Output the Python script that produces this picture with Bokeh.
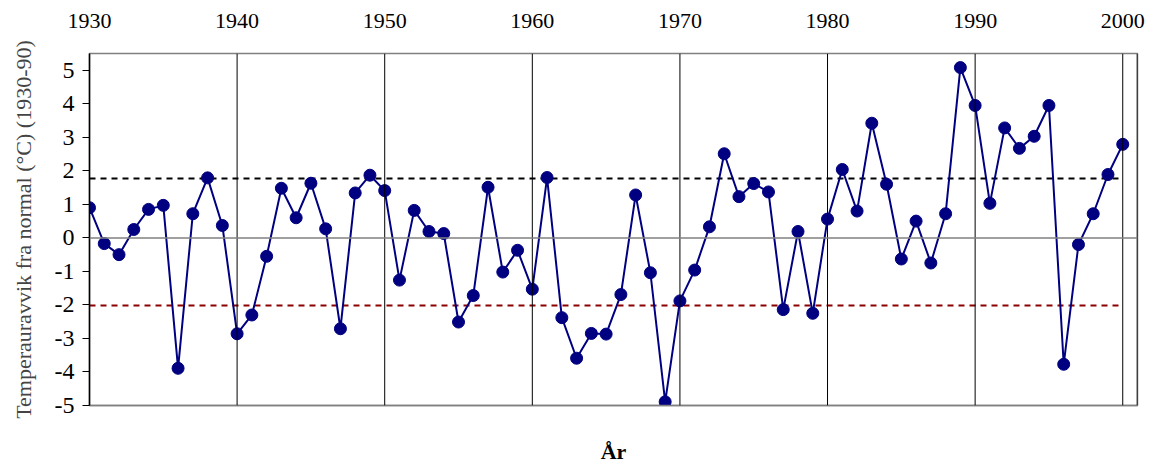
from bokeh.plotting import figure
from bokeh.models import LinearAxis, Span, FixedTicker, Range1d, PrintfTickFormatter
from bokeh.embed import file_html
from bokeh.resources import INLINE

years = list(range(1930, 2001))
anomaly = [0.90, -0.17, -0.50, 0.25, 0.85, 0.97, -3.89, 0.72, 1.79, 0.37,
           -2.86, -2.30, -0.55, 1.48, 0.60, 1.63, 0.27, -2.71, 1.34, 1.87,
           1.41, -1.26, 0.82, 0.19, 0.13, -2.51, -1.72, 1.51, -1.02, -0.37,
           -1.53, 1.80, -2.38, -3.59, -2.85, -2.87, -1.69, 1.28, -1.04, -4.89,
           -1.88, -0.96, 0.33, 2.51, 1.23, 1.62, 1.37, -2.14, 0.19, -2.25,
           0.56, 2.04, 0.80, 3.42, 1.60, -0.63, 0.50, -0.75, 0.72, 5.08,
           3.95, 1.03, 3.28, 2.67, 3.03, 3.95, -3.77, -0.20, 0.72, 1.89,
           2.79]
upper_limit = 1.77
lower_limit = -2.02
x_ticks = [1930, 1940, 1950, 1960, 1970, 1980, 1990, 2000]
y_ticks = [-5, -4, -3, -2, -1, 0, 1, 2, 3, 4, 5]

FONT = "Liberation Serif"

p = figure(width=1152, height=466, output_backend="svg", toolbar_location=None,
           x_range=Range1d(1930, 2001), y_range=Range1d(-5, 5.5),
           x_axis_location=None, y_axis_location=None,
           min_border_left=89, min_border_right=15, min_border_top=53,
           min_border_bottom=60)
p.outline_line_color = "#808080"
p.outline_line_width = 1.5
p.background_fill_color = "white"
p.border_fill_color = "white"

# top axis with year labels
top = LinearAxis(ticker=FixedTicker(ticks=x_ticks), formatter=PrintfTickFormatter(format="%d"))
top.axis_line_color = "#808080"
top.major_tick_line_color = None
top.minor_tick_line_color = None
top.major_label_text_font = FONT
top.major_label_text_font_size = "22px"
top.major_label_text_color = "black"
top.major_label_standoff = 20
p.add_layout(top, "above")

# bottom axis only for the title
bottom = LinearAxis(ticker=FixedTicker(ticks=[]))
bottom.axis_line_color = "#808080"
bottom.axis_line_width = 1.5
bottom.major_tick_line_color = None
bottom.minor_tick_line_color = None
bottom.major_label_text_font_size = "0px"
bottom.axis_label = "År"
bottom.axis_label_text_font = FONT
bottom.axis_label_text_font_size = "22px"
bottom.axis_label_text_font_style = "bold"
bottom.axis_label_text_color = "black"
bottom.axis_label_standoff = 33
p.add_layout(bottom, "below")

left = LinearAxis(ticker=FixedTicker(ticks=y_ticks), formatter=PrintfTickFormatter(format="%d"))
left.axis_line_color = "black"
left.axis_line_width = 1.5
left.major_tick_line_color = "black"
left.major_tick_out = 7
left.major_tick_in = 0
left.minor_tick_line_color = None
left.major_label_text_font = FONT
left.major_label_text_font_size = "24px"
left.major_label_text_color = "black"
left.major_label_standoff = 8
left.axis_label = "Temperauravvik fra normal (°C) (1930-90)"
left.axis_label_text_font = FONT
left.axis_label_text_font_size = "22px"
left.axis_label_text_font_style = "normal"
left.axis_label_text_color = "#444444"
left.axis_label_standoff = 16
p.add_layout(left, "left")

p.xgrid.visible = False
p.ygrid.visible = False
for xv in x_ticks[1:]:
    p.add_layout(Span(location=xv, dimension="height", line_color="black", line_width=1))
p.add_layout(Span(location=2001, dimension="height", line_color="black", line_width=1.5))
p.add_layout(Span(location=0, dimension="width", line_color="#808080", line_width=1.5))

p.line([years[0], years[-1]], [upper_limit, upper_limit], line_color="black",
       line_width=2, line_dash="6 5")
p.line([years[0], years[-1]], [lower_limit, lower_limit], line_color="#8B0000",
       line_width=2, line_dash="6 5")

p.line(years, anomaly, line_color="#000080", line_width=2)
p.scatter(years, anomaly, size=12, fill_color="#000080", line_color="#000080")

open("out.html", "w").write(file_html(p, INLINE))
